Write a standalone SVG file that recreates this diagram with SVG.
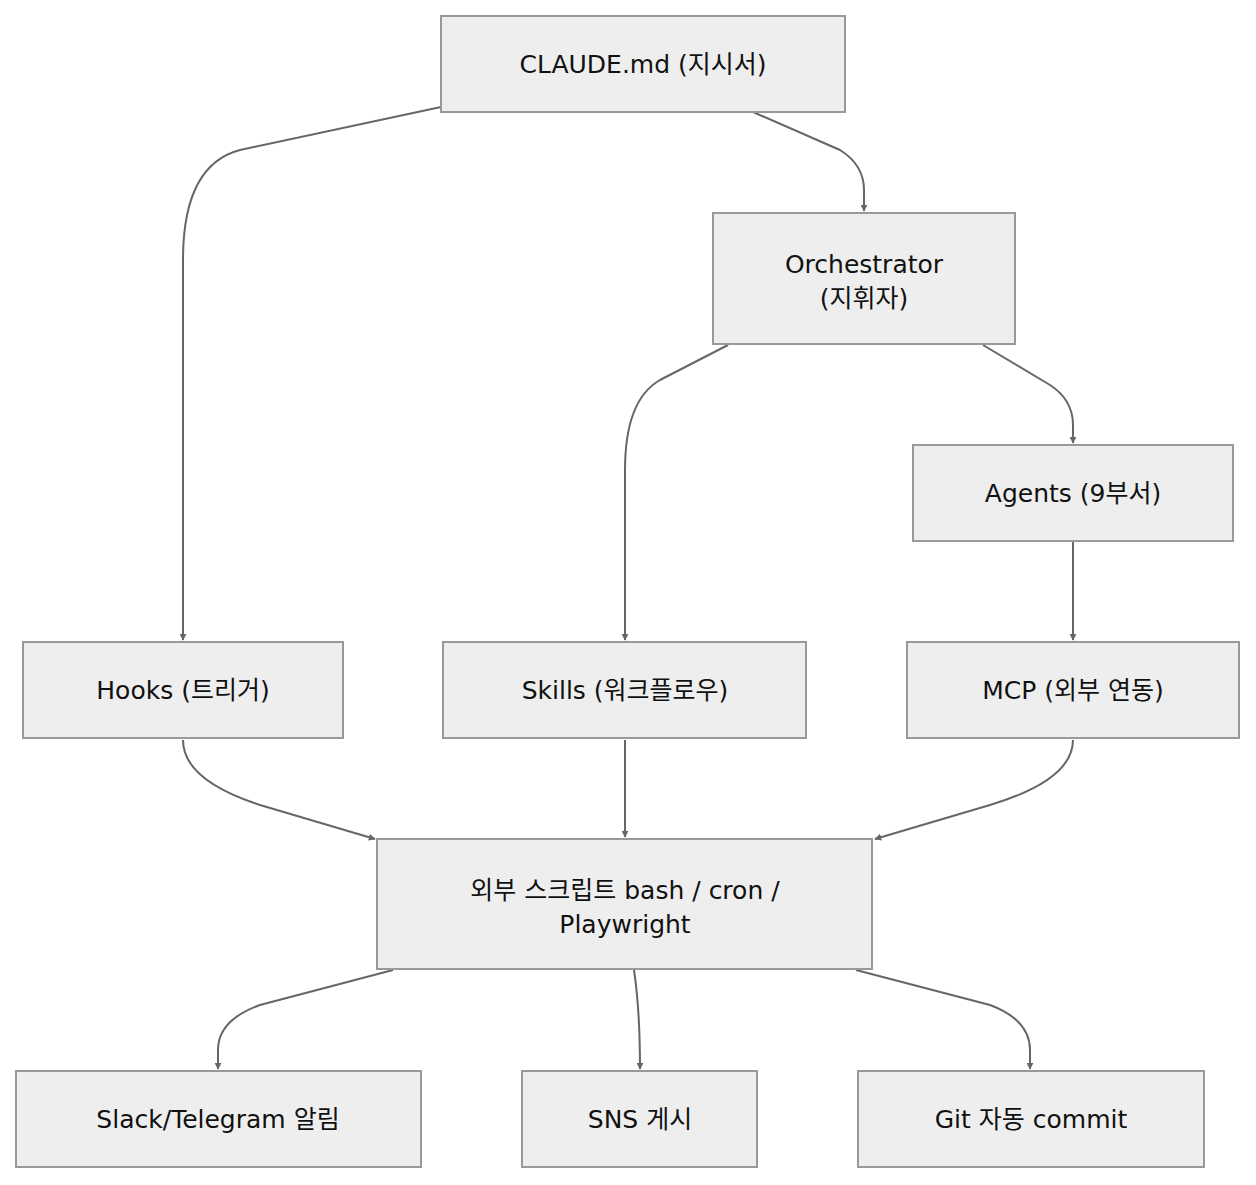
<svg xmlns="http://www.w3.org/2000/svg" width="1256" height="1185" viewBox="0 0 1256 1185">
<style>
.n rect{fill:#eeeeee;stroke:#999999;stroke-width:2}
.n text{font-family:"DejaVu Sans","Noto Sans CJK KR",sans-serif;font-size:25px;fill:#111;text-anchor:middle;dominant-baseline:central}
.e path{fill:none;stroke:#666;stroke-width:2;marker-end:url(#a)}
</style>
<defs><marker id="a" viewBox="0 0 10 10" refX="9" refY="5" markerWidth="7" markerHeight="7" orient="auto" markerUnits="userSpaceOnUse" ><path d="M0,0 L10,5 L0,10 z" fill="#666"/></marker></defs>
<rect width="1256" height="1185" fill="#fff"/>
<g class="e">
<path d="M441,107 L240,150 Q183,165 183,260 L183,640"/>
<path d="M753,112 L840,150 Q864,165 864,190 L864,211"/>
<path d="M728,345 L660,380 Q625,400 625,470 L625,640"/>
<path d="M983,345 L1050,385 Q1073,400 1073,425 L1073,443"/>
<path d="M1073,541 L1073,640"/>
<path d="M183,740 Q183,780 260,805 L375,839"/>
<path d="M625,740 L625,837"/>
<path d="M1073,740 Q1073,780 990,805 L875,839"/>
<path d="M393,970 L260,1005 Q218,1020 218,1050 L218,1069"/>
<path d="M634,970 Q640,1010 640,1069"/>
<path d="M856,970 L990,1005 Q1030,1020 1030,1050 L1030,1069"/>
</g>
<g class="n" id="claude"><rect x="441" y="16" width="404" height="96"/><text x="643" y="64">CLAUDE.md (지시서)</text></g>
<g class="n" id="orch"><rect x="713" y="213" width="302" height="131"/><text x="864" y="264">Orchestrator</text><text x="864" y="298">(지휘자)</text></g>
<g class="n" id="agents"><rect x="913" y="445" width="320" height="96"/><text x="1073" y="493">Agents (9부서)</text></g>
<g class="n" id="hooks"><rect x="23" y="642" width="320" height="96"/><text x="183" y="690">Hooks (트리거)</text></g>
<g class="n" id="skills"><rect x="443" y="642" width="363" height="96"/><text x="625" y="690">Skills (워크플로우)</text></g>
<g class="n" id="mcp"><rect x="907" y="642" width="332" height="96"/><text x="1073" y="690">MCP (외부 연동)</text></g>
<g class="n" id="script"><rect x="377" y="839" width="495" height="130"/><text x="625" y="890">외부 스크립트 bash / cron /</text><text x="625" y="924">Playwright</text></g>
<g class="n" id="slack"><rect x="16" y="1071" width="405" height="96"/><text x="218" y="1119">Slack/Telegram 알림</text></g>
<g class="n" id="sns"><rect x="522" y="1071" width="235" height="96"/><text x="640" y="1119">SNS 게시</text></g>
<g class="n" id="git"><rect x="858" y="1071" width="346" height="96"/><text x="1031" y="1119">Git 자동 commit</text></g>
</svg>
